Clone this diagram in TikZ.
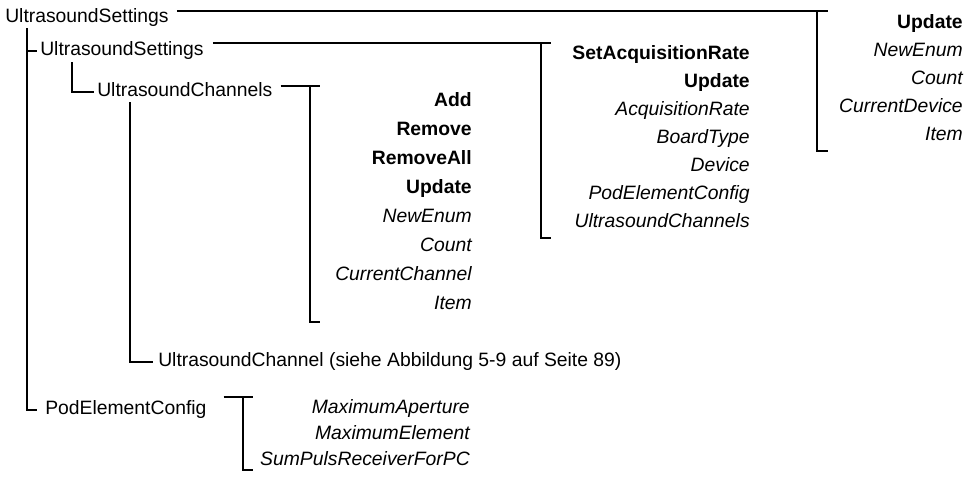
\documentclass[tikz,border=0pt]{standalone}
\usepackage{fontspec}
\setmainfont{Liberation Sans}
\usetikzlibrary{calc}
\newcommand{\treefont}{\fontsize{14.5}{16}\selectfont}
\tikzset{
  link/.style={
    line width=1.4pt,
    color=black
  },
  entry/.style={
    anchor=west,
    inner sep=0pt,
    text height=10pt,
    text depth=3pt,
    font=\treefont
  },
  member/.style={
    anchor=east,
    inner sep=0pt,
    text height=10pt,
    text depth=3pt
  }
}

\begin{document}
\begin{tikzpicture}[x=0.75pt, y=-0.75pt]
    % 1 Einheit = 1 Pixel, y nach unten
    \useasboundingbox (0,0) rectangle (973,479);

    % Baumknoten
    \node[entry] (root) at (5,18) {UltrasoundSettings};
    \node[entry] (sett) at (40,51) {UltrasoundSettings};
    \node[entry] (chans) at (97,92) {UltrasoundChannels};
    \node[entry] (chan) at (158,362) {UltrasoundChannel (siehe Abbildung 5-9 auf Seite 89)};
    \node[entry] (pod) at (45,410) {PodElementConfig};

    % Baumlinien
    \coordinate (trunkA) at (27,28);
    \coordinate (trunkB) at (72,62);
    \coordinate (trunkC) at (130,102);
    \draw[link] (trunkA) |- ($(pod.west)+(-8,0)$);
    \draw[link] (trunkA |- sett.west) -- ($(sett.west)+(-3,0)$);
    \draw[link] (trunkB) |- ($(chans.west)+(-3,0)$);
    \draw[link] (trunkC) |- ($(chan.west)+(-5,0)$);

    % Klammern zu den Memberlisten
    \coordinate (b1) at (817,11);  \coordinate (b1e) at (817,151);
    \coordinate (b2) at (541,43);  \coordinate (b2e) at (541,238);
    \coordinate (b3) at (310,86);  \coordinate (b3e) at (310,322);
    \coordinate (b4) at (243,397); \coordinate (b4e) at (243,470);
    \draw[link] ($(root.east |- b1)+(8,0)$) -- ($(b1)+(11,0)$);
    \draw[link] ($(sett.east |- b2)+(9,0)$) -- ($(b2)+(10,0)$);
    \draw[link] ($(chans.east |- b3)+(8,0)$) -- ($(b3)+(10,0)$);
    \draw[link] ($(pod.east |- b4)+(17,0)$) -- ($(b4)+(10,0)$);
    \draw[link] (b1) -- (b1e) -- ($(b1e)+(11,0)$);
    \draw[link] (b2) -- (b2e) -- ($(b2e)+(10,0)$);
    \draw[link] (b3) -- (b3e) -- ($(b3e)+(10,0)$);
    \draw[link] (b4) -- (b4e) -- ($(b4e)+(10,0)$);

    % Memberlisten (fett: Methoden, kursiv: Eigenschaften)
    \foreach \t/\f [count=\i from 0] in {Update/\bfseries, NewEnum/\itshape, Count/\itshape,
        CurrentDevice/\itshape, Item/\itshape}
      \node[member, font=\treefont\f] (dev-\i) at (963,24+28*\i) {\t};
    \foreach \t/\f [count=\i from 0] in {SetAcquisitionRate/\bfseries, Update/\bfseries,
        AcquisitionRate/\itshape, BoardType/\itshape, Device/\itshape,
        PodElementConfig/\itshape, UltrasoundChannels/\itshape}
      \node[member, font=\treefont\f] (set-\i) at (750,55+28*\i) {\t};
    \foreach \t/\f [count=\i from 0] in {Add/\bfseries, Remove/\bfseries, RemoveAll/\bfseries,
        Update/\bfseries, NewEnum/\itshape, Count/\itshape, CurrentChannel/\itshape, Item/\itshape}
      \node[member, font=\treefont\f] (chs-\i) at (472,102+29*\i) {\t};
    \foreach \t/\f [count=\i from 0] in {MaximumAperture/\itshape, MaximumElement/\itshape,
        SumPulsReceiverForPC/\itshape}
      \node[member, font=\treefont\f] (pec-\i) at (470,409+26*\i) {\t};

\end{tikzpicture}
\end{document}
